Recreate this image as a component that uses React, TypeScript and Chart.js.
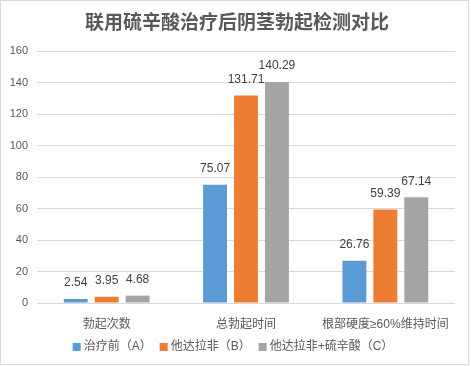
import React, { useEffect, useRef } from "react";
import { Chart, registerables } from "chart.js";

Chart.register(...registerables);

const title = "联用硫辛酸治疗后阴茎勃起检测对比";
const categories = ["勃起次数", "总勃起时间", "根部硬度≥60%维持时间"];
const seriesNames = ["治疗前（A）", "他达拉非（B）", "他达拉非+硫辛酸（C）"];
const seriesA = [2.54, 75.07, 26.76];
const seriesB = [3.95, 131.71, 59.39];
const seriesC = [4.68, 140.29, 67.14];
const colors = ["#5B9BD5", "#ED7D31", "#A5A5A5"];
const yMin = 0;
const yMax = 160;
const yStep = 20;

const FONT = "'Liberation Sans', 'Noto Sans CJK SC', sans-serif";

const decorPlugin = {
  id: "decor",
  beforeDraw(chart: any) {
    const ctx = chart.ctx;
    ctx.save();
    ctx.fillStyle = "#ffffff";
    ctx.fillRect(0, 0, chart.width, chart.height);
    ctx.strokeStyle = "#d9d9d9";
    ctx.lineWidth = 1;
    ctx.strokeRect(0.5, 0.5, 468, 364);
    ctx.restore();
  },
  afterDraw(chart: any) {
    const ctx = chart.ctx;
    ctx.save();
    // title
    ctx.fillStyle = "#595959";
    ctx.font = "bold 19px 'Noto Sans CJK SC', sans-serif";
    ctx.textAlign = "center";
    ctx.textBaseline = "middle";
    ctx.fillText(title, 237, 22);
    // legend
    ctx.font = "12px " + FONT;
    const box = 8;
    const gapBoxText = 3;
    const gapItems = 8;
    const ds = chart.data.datasets;
    const widths = ds.map((d: any) => box + gapBoxText + ctx.measureText(d.label).width);
    const total = widths.reduce((a: number, b: number) => a + b, 0) + gapItems * (ds.length - 1);
    let x = 233 - total / 2;
    const y = 347;
    ds.forEach((d: any, i: number) => {
      ctx.fillStyle = d.backgroundColor;
      ctx.fillRect(x, y - box / 2, box, box);
      ctx.fillStyle = "#595959";
      ctx.textAlign = "left";
      ctx.textBaseline = "middle";
      ctx.fillText(d.label, x + box + gapBoxText, y);
      x += widths[i] + gapItems;
    });
    ctx.restore();
  },
  afterDatasetsDraw(chart: any) {
    const ctx = chart.ctx;
    ctx.save();
    ctx.font = "12px " + FONT;
    ctx.fillStyle = "#404040";
    ctx.textAlign = "center";
    ctx.textBaseline = "middle";
    chart.data.datasets.forEach((d: any, i: number) => {
      const meta = chart.getDatasetMeta(i);
      meta.data.forEach((el: any, j: number) => {
        ctx.fillText(Number(d.data[j]).toFixed(2), el.x, el.y - 16);
      });
    });
    ctx.restore();
  },
};

export default function App() {
  const ref = useRef<HTMLCanvasElement>(null);
  useEffect(() => {
    document.body.style.margin = "0";
    const chart = new Chart(ref.current!, {
      type: "bar",
      data: {
        labels: categories,
        datasets: [seriesA, seriesB, seriesC].map((data, i) => ({
          label: seriesNames[i],
          data,
          backgroundColor: colors[i],
          categoryPercentage: 0.666,
          barPercentage: 0.774,
        })),
      },
      options: {
        animation: false,
        responsive: false,
        devicePixelRatio: 1,
        layout: { padding: { left: 0, right: 16, top: 51, bottom: 0 } },
        plugins: {
          legend: { display: false },
          title: { display: false },
          tooltip: { enabled: false },
        },
        scales: {
          x: {
            grid: { display: false },
            border: { display: false },
            ticks: { color: "#595959", font: { size: 12, family: FONT }, padding: 6, maxRotation: 0, autoSkip: false },
            afterFit(scale: any) {
              scale.height = 63;
            },
          },
          y: {
            min: yMin,
            max: yMax,
            ticks: { stepSize: yStep, color: "#595959", font: { size: 11, family: FONT }, padding: 9 },
            grid: { color: "#d9d9d9", drawTicks: false },
            border: { display: false },
            afterFit(scale: any) {
              scale.width = 37;
            },
          },
        },
      },
      plugins: [decorPlugin],
    });
    return () => chart.destroy();
  }, []);
  return (
    <div style={{ width: 471, height: 366 }}>
      <canvas ref={ref} width={471} height={366} />
    </div>
  );
}
